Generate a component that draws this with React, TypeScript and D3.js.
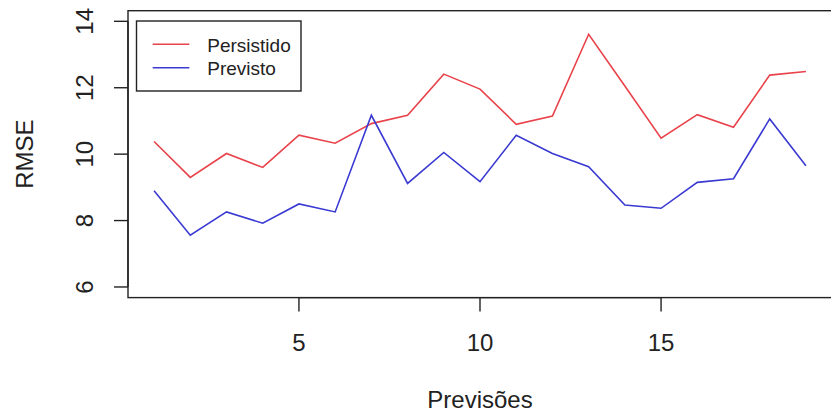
import React from "react";
import * as d3 from "d3";

const previsoes = [1, 2, 3, 4, 5, 6, 7, 8, 9, 10, 11, 12, 13, 14, 15, 16, 17, 18, 19];
const persistido = [10.38, 9.3, 10.02, 9.6, 10.57, 10.33, 10.92, 11.17, 12.41, 11.96, 10.9, 11.15, 13.61, 12.05, 10.48, 11.19, 10.81, 12.38, 12.49];
const previsto = [8.9, 7.56, 8.26, 7.92, 8.5, 8.26, 11.17, 9.12, 10.05, 9.17, 10.57, 10.02, 9.62, 8.47, 8.37, 9.15, 9.26, 11.06, 9.65];
const xTicks = [5, 10, 15];
const yTicks = [6, 8, 10, 12, 14];
const seriesNames = ["Persistido", "Previsto"];
const seriesColors = ["#e8434b", "#3a3ad2"];

const W = 831;
const H = 412;
const FONT = "'Liberation Sans', Arial, sans-serif";

export default function App() {
  const left = 128, right = 832, top = 10.7, bottom = 297.6;
  const x = d3.scaleLinear().domain([0.28, 19.72]).range([left, right]);
  const y = d3.scaleLinear().domain([5.68, 14.32]).range([bottom, top]);
  const line = d3
    .line<[number, number]>()
    .x((d) => x(d[0]))
    .y((d) => y(d[1]));
  const series = [persistido, previsto];

  return (
    <svg
      width={W}
      height={H}
      style={{ position: "fixed", left: 0, top: 0, background: "#fff" }}
      fontFamily={FONT}
    >
      <rect x={0} y={0} width={W} height={H} fill="#fff" />
      {series.map((s, i) => (
        <path
          key={i}
          d={line(previsoes.map((p, j) => [p, s[j]]) as [number, number][]) || ""}
          fill="none"
          stroke={seriesColors[i]}
          strokeWidth={1.6}
          strokeLinejoin="miter"
        />
      ))}
      {/* box */}
      <rect x={left} y={top} width={right - left} height={bottom - top} fill="none" stroke="#222" strokeWidth={1.4} />
      {/* x axis */}
      <line x1={x(xTicks[0])} x2={x(xTicks[xTicks.length - 1])} y1={bottom} y2={bottom} stroke="#222" strokeWidth={1.4} />
      {xTicks.map((t) => (
        <g key={t}>
          <line x1={x(t)} x2={x(t)} y1={bottom} y2={bottom + 14} stroke="#222" strokeWidth={1.4} />
          <text x={x(t)} y={351} textAnchor="middle" fontSize={24} fill="#222">
            {t}
          </text>
        </g>
      ))}
      {/* y axis */}
      <line x1={left} x2={left} y1={y(yTicks[0])} y2={y(yTicks[yTicks.length - 1])} stroke="#222" strokeWidth={1.4} />
      {yTicks.map((t) => (
        <g key={t}>
          <line x1={left - 14} x2={left} y1={y(t)} y2={y(t)} stroke="#222" strokeWidth={1.4} />
          <text
            transform={`translate(93,${y(t)}) rotate(-90)`}
            textAnchor="middle"
            fontSize={24}
            fill="#222"
          >
            {t}
          </text>
        </g>
      ))}
      <text x={(left + right) / 2} y={408} textAnchor="middle" fontSize={24} fill="#222">
        Previsões
      </text>
      <text transform={`translate(32.5,${(top + bottom) / 2}) rotate(-90)`} textAnchor="middle" fontSize={24} fill="#222">
        RMSE
      </text>
      {/* legend */}
      <rect x={136.5} y={21} width={164.5} height={70} fill="#fff" stroke="#222" strokeWidth={1.4} />
      {seriesNames.map((n, i) => (
        <g key={n}>
          <line x1={152.7} x2={189.3} y1={44.3 + i * 23.4} y2={44.3 + i * 23.4} stroke={seriesColors[i]} strokeWidth={1.6} />
          <text x={207.3} y={51.5 + i * 23.4} fontSize={19} fill="#222">
            {n}
          </text>
        </g>
      ))}
    </svg>
  );
}
